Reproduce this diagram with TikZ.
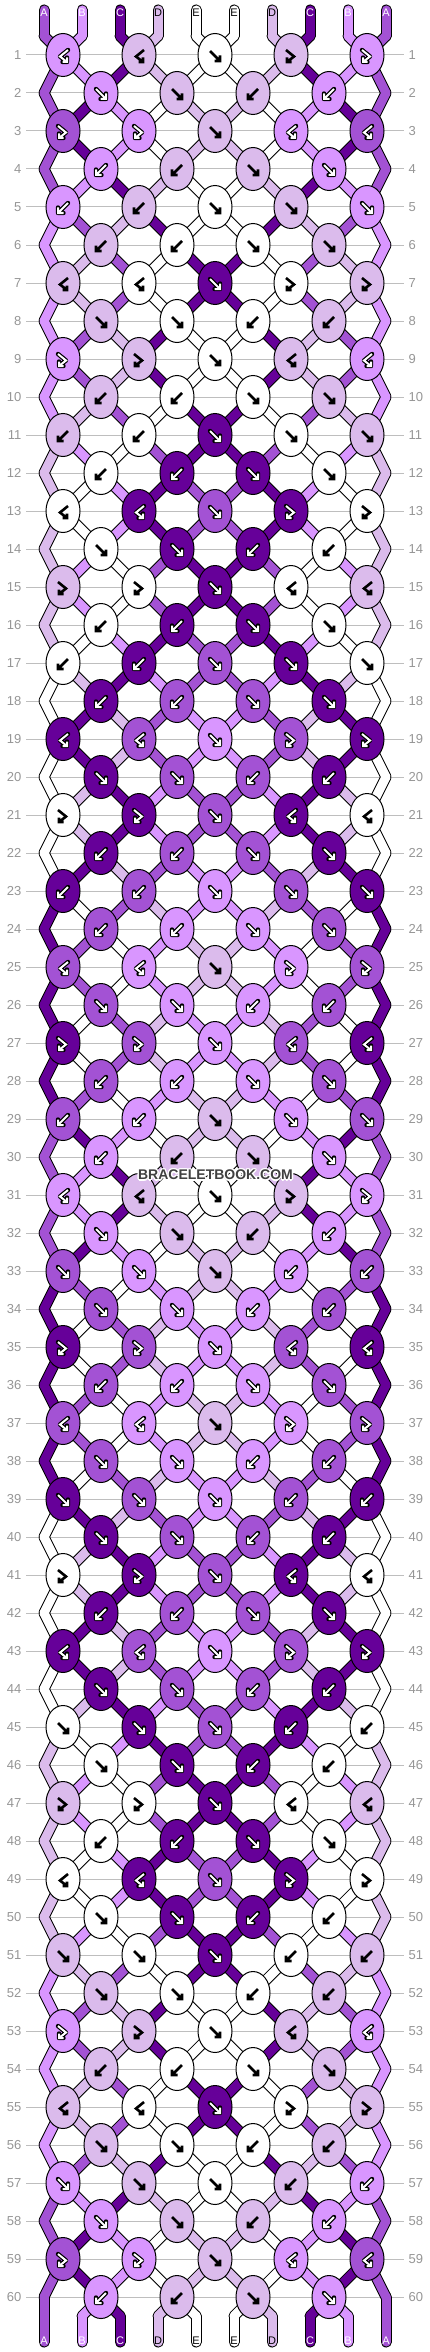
\documentclass[tikz,border=0pt]{standalone}
\usepackage{fontspec}
\setmainfont{Liberation Sans}
\usetikzlibrary{shapes.geometric}

\definecolor{cA}{RGB}{163,82,212}
\definecolor{cB}{RGB}{217,150,255}
\definecolor{cC}{RGB}{102,0,153}
\definecolor{cD}{RGB}{219,187,236}
\definecolor{cE}{RGB}{255,255,255}
\definecolor{rowgray}{RGB}{190,190,190}
\definecolor{numgray}{RGB}{150,150,150}
\definecolor{markgray}{RGB}{64,64,64}
\colorlet{tA}{white}
\colorlet{tB}{white}
\colorlet{tC}{white}
\colorlet{tD}{black}
\colorlet{tE}{black}

% dark knots get white arrows
\def\dkA{1}\def\dkB{1}\def\dkC{1}\def\dkD{0}\def\dkE{0}

% knot types: 1 forward, 2 backward, 3 forward-backward, 4 backward-forward
\def\rowlist{1/4,2/1,3/3,4/2,5/2,6/2,7/4,8/1,9/3,10/2,11/2,12/2,13/4,14/1,15/3,16/2,17/2,18/2,19/4,20/1,21/3,22/2,23/2,24/2,25/4,26/1,27/3,28/2,29/2,30/2,31/4,32/1,33/1,34/1,35/3,36/2,37/4,38/1,39/1,40/1,41/3,42/2,43/4,44/1,45/1,46/1,47/3,48/2,49/4,50/1,51/1,52/1,53/3,54/2,55/4,56/1,57/1,58/1,59/3,60/2}

\newcommand\doknot[4]{%
  \pgfmathtruncatemacro\rgt{#3+1}%
  \edef\thL{\csname th#3\endcsname}%
  \edef\thR{\csname th\rgt\endcsname}%
  \ifodd#4\relax \edef\kcol{\thL}\else \edef\kcol{\thR}\fi
  \expandafter\xdef\csname kc-#1-#2\endcsname{\kcol}%
  \expandafter\xdef\csname kt-#1-#2\endcsname{#4}%
  \ifnum#4<3\relax
    \expandafter\xdef\csname th#3\endcsname{\thR}%
    \expandafter\xdef\csname th\rgt\endcsname{\thL}%
  \fi}

\newcommand\glyph[2]{%
  \ifcase#1\relax\or
    \draw[#2] (-5,-4) -- (5,6) (5,0.5) -- (5,6) -- (-0.5,6);\or
    \draw[#2] (5,-4) -- (-5,6) (-5,0.5) -- (-5,6) -- (0.5,6);\or
    \draw[#2] (-5,-5) -- (3,1.5) -- (-4,7) (-4,2.5) -- (-4,7) -- (0.5,7);\or
    \draw[#2] (5,-5) -- (-3,1.5) -- (4,7) (4,2.5) -- (4,7) -- (-0.5,7);\fi}

\tikzset{
  strand edge/.style={line width=11pt, draw=black, line cap=round},
  strand fill/.style={line width=9pt, line cap=round},
  knot/.style={ellipse, draw=black, line width=1pt, minimum width=34pt,
    minimum height=43pt, inner sep=0pt},
  glyph edge/.style={line width=4.4pt, draw=black, line cap=round, line join=round},
  glyph light/.style={line width=2pt, draw=white, line cap=butt, line join=miter},
  glyph dark/.style={line width=2.6pt, draw=black, line cap=butt, line join=miter},
  rowline/.style={draw=rowgray, line width=1pt},
  rownum/.style={text=numgray, font=\fontsize{13}{13}\selectfont, inner sep=0pt},
  letter/.style={font=\fontsize{11}{11}\selectfont, inner sep=0pt},
  watermark/.style={font=\fontsize{14}{14}\selectfont\bfseries, inner sep=0pt},
}

\begin{document}
\begin{tikzpicture}[x=1pt, y=-1pt]

    \fill[white] (0,0) rectangle (430,2352);
    \useasboundingbox (0,0) rectangle (430,2352);

    % thread ends and knot points
    \foreach \i/\lab in {0/A,1/B,2/C,3/D,4/E,5/E,6/D,7/C,8/B,9/A} {
        \coordinate (t-\i) at (44+38*\i, 10);
        \coordinate (p-0-\i) at (44+38*\i, 36);
        \coordinate (p-61-\i) at (44+38*\i, 2316);
        \coordinate (b-\i) at (44+38*\i, 2342);
        \expandafter\xdef\csname th\i\endcsname{\lab}
    }
    \foreach \rw in {1,...,60} {
        \pgfmathsetmacro\yy{17+38*\rw}
        \foreach \i in {0,...,9} {
            \ifodd\rw\relax
                \pgfmathsetmacro\xx{63+76*floor(\i/2)}
            \else
                \pgfmathsetmacro\xx{\i==0 ? 44 : (\i==9 ? 386 : 101+76*floor((\i-1)/2))}
            \fi
            \coordinate (p-\rw-\i) at (\xx,\yy);
        }
    }

    % knot the threads row by row
    \foreach \rw/\ty in \rowlist {
        \foreach \i in {0,...,9} {
            \expandafter\xdef\csname sc-\rw-\i\endcsname{\csname th\i\endcsname}
        }
        \pgfmathtruncatemacro\mt{\ty+1-2*mod(\ty+1,2)}
        \ifodd\rw\relax
            \doknot{\rw}{1}{0}{\ty}\doknot{\rw}{2}{2}{\ty}\doknot{\rw}{3}{4}{1}%
            \doknot{\rw}{4}{6}{\mt}\doknot{\rw}{5}{8}{\mt}%
        \else
            \doknot{\rw}{1}{1}{\ty}\doknot{\rw}{2}{3}{\ty}%
            \doknot{\rw}{3}{5}{\mt}\doknot{\rw}{4}{7}{\mt}%
        \fi
    }
    \foreach \i in {0,...,9} {
        \expandafter\xdef\csname sc-61-\i\endcsname{\csname th\i\endcsname}
    }

    % row lines and numbers
    \foreach \rw in {1,...,60} {
        \pgfmathsetmacro\yy{17+38*\rw}
        \draw[rowline] (26,\yy) -- (404,\yy);
        \node[rownum, anchor=east] (ln-\rw) at (21.5,\yy) {\rw};
        \node[rownum, anchor=west] (rn-\rw) at (408.5,\yy) {\rw};
    }

    % threads: outline first, colour on top
    \foreach \i/\lab in {0/A,1/B,2/C,3/D,4/E,5/E,6/D,7/C,8/B,9/A} {
        \draw[strand edge] (t-\i) -- (p-0-\i);
        \draw[strand edge] (p-61-\i) -- (b-\i);
    }
    \foreach \rw in {1,...,61} {
        \pgfmathtruncatemacro\rp{\rw-1}
        \foreach \i in {0,...,9} {
            \draw[strand edge] (p-\rp-\i) -- (p-\rw-\i);
        }
    }
    \foreach \i/\lab in {0/A,1/B,2/C,3/D,4/E,5/E,6/D,7/C,8/B,9/A} {
        \draw[strand fill, draw=c\lab] (t-\i) -- (p-0-\i);
        \draw[strand fill, draw=c\lab] (p-61-\i) -- (b-\i);
        \node[letter, text=t\lab] (top-\i) at (44+38*\i, 12.5) {\lab};
        \node[letter, text=t\lab] (bot-\i) at (44+38*\i, 2340.5) {\lab};
    }
    \foreach \rw in {1,...,61} {
        \pgfmathtruncatemacro\rp{\rw-1}
        \foreach \i in {0,...,9} {
            \edef\segc{\csname sc-\rw-\i\endcsname}
            \draw[strand fill, draw=c\segc] (p-\rp-\i) -- (p-\rw-\i);
        }
    }

    % knots with their arrows
    \foreach \rw in {1,...,60} {
        \pgfmathtruncatemacro\odd{mod(\rw,2)}
        \pgfmathtruncatemacro\nk{4+\odd}
        \foreach \j in {1,...,\nk} {
            \pgfmathtruncatemacro\pos{2*\j-1-\odd}
            \edef\kc{\csname kc-\rw-\j\endcsname}
            \edef\kt{\csname kt-\rw-\j\endcsname}
            \node[knot, fill=c\kc] (k-\rw-\j) at (p-\rw-\pos) {};
            \ifnum\csname dk\kc\endcsname=1\relax
                \glyph{\kt}{glyph edge, shift={(k-\rw-\j)}}
                \glyph{\kt}{glyph light, shift={(k-\rw-\j)}}
            \else
                \glyph{\kt}{glyph dark, shift={(k-\rw-\j)}}
            \fi
        }
    }

    % watermark
    \foreach \dx/\dy [count=\hc] in {-1/-1,0/-1.4,1/-1,-1.4/0,1.4/0,-1/1,0/1.4,1/1} {
        \node[watermark, text=white] (halo-\hc) at (215.5+\dx,1175+\dy) {BRACELETBOOK.COM};
    }
    \node[watermark, text=markgray] (mark) at (215.5,1175) {BRACELETBOOK.COM};

\end{tikzpicture}
\end{document}
